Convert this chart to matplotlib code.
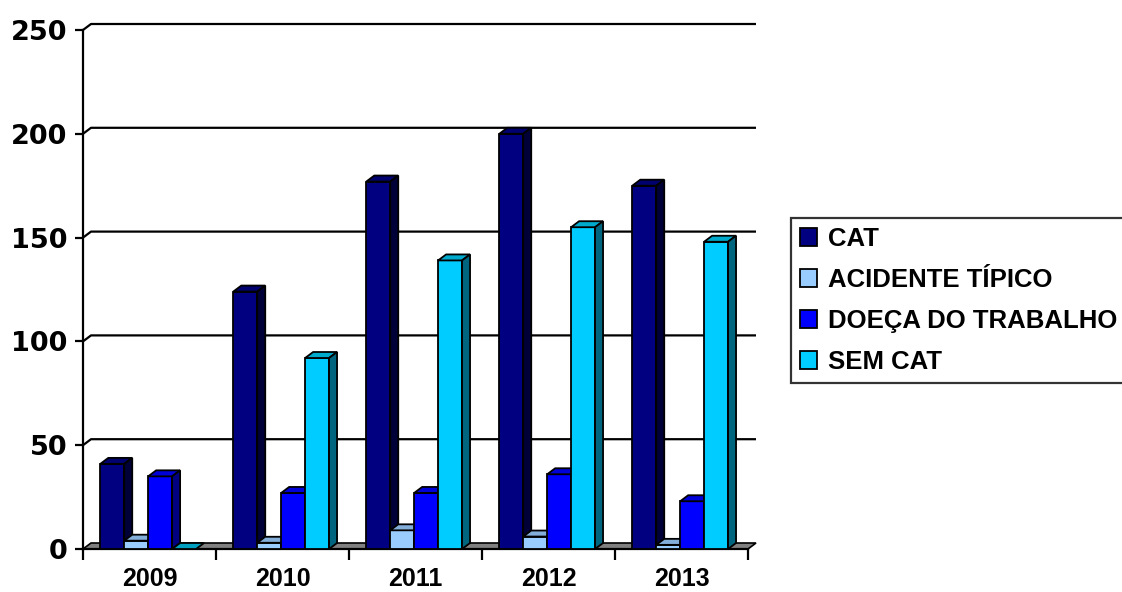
import matplotlib
matplotlib.use('Agg')
import matplotlib.pyplot as plt
from matplotlib.patches import Polygon, Patch

# ---- data ----
years = ['2009', '2010', '2011', '2012', '2013']
series_names = ['CAT', 'ACIDENTE TÍPICO', 'DOEÇA DO TRABALHO', 'SEM CAT']
cat = [41, 124, 177, 200, 175]
acidente = [4, 3, 9, 6, 2]
doenca = [35, 27, 27, 36, 23]
sem_cat = [0, 92, 139, 155, 148]
y_ticks = [0, 50, 100, 150, 200, 250]

front_colors = ['#000080', '#99CCFF', '#0000FF', '#00CCFF']
top_colors = ['#00006E', '#84AEDA', '#0000D8', '#00AACC']
side_colors = ['#000038', '#4D6680', '#000080', '#006680']

plt.rcParams['font.family'] = ['Liberation Sans', 'DejaVu Sans']

W, H = 1122, 592
fig = plt.figure(figsize=(W / 100, H / 100), dpi=100)
left_px, right_px, y0_px, ytop_px = 83, 748, 549, 30
ax = fig.add_axes([left_px / W, (H - y0_px) / H, (right_px - left_px) / W, (y0_px - ytop_px) / H])
ax.set_xlim(0, len(years))
ax.set_ylim(0, 250)

# depth offsets (pixels -> data)
DX, DY = 8, 6
ddx = DX * len(years) / (right_px - left_px)
ddy = DY * 250 / (y0_px - ytop_px)
nx = len(years)

# back wall gridlines
for y in y_ticks[1:]:
    ax.plot([0, ddx, nx + ddx], [y, y + ddy, y + ddy], color='black', lw=1.6,
            clip_on=False, zorder=0, solid_capstyle='butt')

# floor
ax.add_patch(Polygon([(0, 0), (nx, 0), (nx + ddx, ddy), (ddx, ddy)], closed=True,
                     facecolor='#808080', edgecolor='black', lw=1.2, clip_on=False, zorder=1))

all_series = [cat, acidente, doenca, sem_cat]
bw = 0.18
start = 0.13
for g in range(nx):
    for i, vals in enumerate(all_series):
        v = vals[g]
        x0 = g + start + i * bw
        x1 = x0 + bw
        z = 2 + g * 10 + i
        if v > 0:
            ax.bar(x0, v, width=bw, align='edge', color=front_colors[i], edgecolor='black',
                   lw=1.3, zorder=z)
        # top face
        ax.add_patch(Polygon([(x0, v), (x1, v), (x1 + ddx, v + ddy), (x0 + ddx, v + ddy)],
                             closed=True, facecolor=top_colors[i] if v > 0 else '#00A0C0',
                             edgecolor='black', lw=1.3, zorder=z, clip_on=False))
        # side face
        if v > 0:
            ax.add_patch(Polygon([(x1, 0), (x1 + ddx, ddy), (x1 + ddx, v + ddy), (x1, v)],
                                 closed=True, facecolor=side_colors[i], edgecolor='black',
                                 lw=1.3, zorder=z, clip_on=False))

# axes styling
for s in ['top', 'right']:
    ax.spines[s].set_visible(False)
ax.spines['left'].set_linewidth(1.6)
ax.spines['bottom'].set_linewidth(1.6)
ax.spines['bottom'].set_zorder(1.5)
ax.set_yticks(y_ticks)
ax.set_yticklabels([str(t) for t in y_ticks], fontsize=19.5, fontweight='bold',
                   family=['DejaVu Sans'])
ax.tick_params(axis='y', direction='out', length=6, width=1.6, pad=5)
ax.set_xticks(range(nx + 1))
ax.set_xticklabels([''] * (nx + 1))
ax.tick_params(axis='x', which='major', direction='out', length=8, width=1.6)
ax.set_xticks([g + 0.5 for g in range(nx)], minor=True)
ax.set_xticklabels(years, minor=True, fontsize=18, fontweight='bold')
ax.tick_params(axis='x', which='minor', length=0, pad=13)
ax.patch.set_alpha(0)

# legend
handles = [Patch(facecolor=c, edgecolor='black', lw=1.3) for c in front_colors]
leg = fig.legend(handles, series_names, loc='upper left',
                 bbox_to_anchor=(791 / W, 1 - 218 / H), frameon=True, fancybox=False,
                 edgecolor='black', prop={'weight': 'bold', 'size': 18.5},
                 handlelength=0.68, handleheight=0.68, handletextpad=0.4,
                 labelspacing=0.66, borderpad=0.35, borderaxespad=0)
leg.get_frame().set_linewidth(1.6)

fig.savefig('out.png', dpi=100)
